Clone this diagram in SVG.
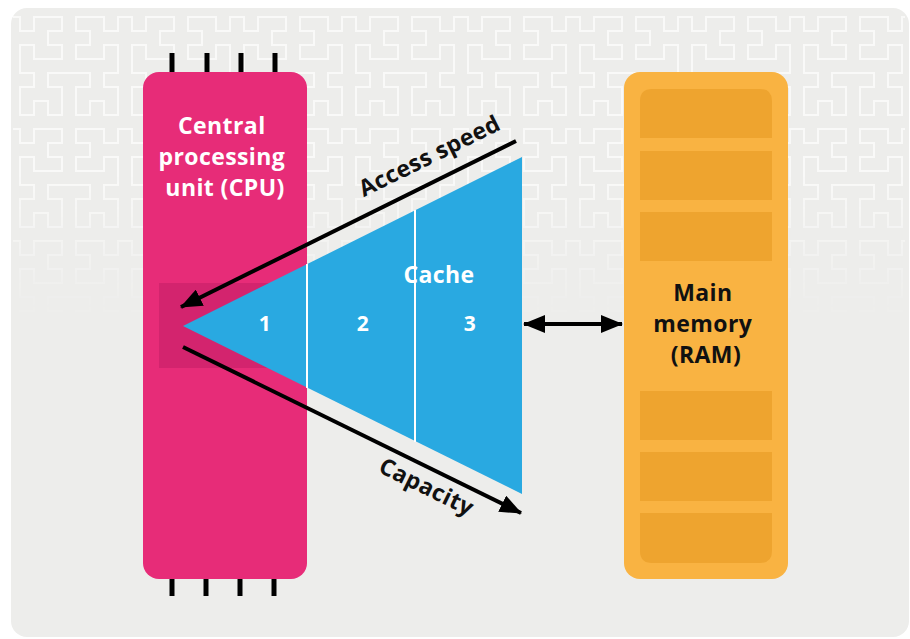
<svg xmlns="http://www.w3.org/2000/svg" width="910" height="639" viewBox="0 0 910 639">
  <style>
    .lbl { font-family: "Open Sans", "Liberation Sans", sans-serif; font-weight: 700; letter-spacing: 0.4px; }
    .white { fill: #ffffff; }
    .dark { fill: #111111; }
    .pin { stroke: #000000; stroke-width: 5; }
    .arrow { stroke: #000000; stroke-width: 4; fill: none; }
    .slot { fill: #EEA42F; }
    .divider { stroke: #ffffff; stroke-width: 2; }
  </style>
  <defs>
    <!-- Hilbert-curve tile for the background texture -->
    <pattern id="hilbert" patternUnits="userSpaceOnUse" x="13" y="10" width="112" height="112">
      <path d="M-7 7 H7 V21 H21 V7 H35 H49 V21 H35 V35 H49 V49 H35 H21 V35 H7 V49 V63 H21 V77 H7 V91 V105 H21 V91 H35 V105 H49 V91 V77 H35 V63 H49 H63 H77 V77 H63 V91 V105 H77 V91 H91 V105 H105 V91 V77 H91 V63 H105 V49 V35 H91 V49 H77 H63 V35 H77 V21 H63 V7 H77 H91 V21 H105 V7 H119" fill="none" stroke="#f9f9f8" stroke-width="2" stroke-linecap="square"/>
    </pattern>
    <linearGradient id="fade" gradientUnits="userSpaceOnUse" x1="0" y1="170" x2="0" y2="320">
      <stop offset="0" stop-color="#ffffff"/>
      <stop offset="1" stop-color="#000000"/>
    </linearGradient>
    <mask id="fadeMask" maskUnits="userSpaceOnUse" x="0" y="0" width="910" height="639">
      <rect x="0" y="0" width="910" height="639" fill="url(#fade)"/>
    </mask>
    <marker id="head" markerUnits="userSpaceOnUse" markerWidth="22" markerHeight="18" refX="21" refY="9" orient="auto-start-reverse" viewBox="0 0 22 18">
      <path d="M0 0 L22 9 L0 18 Z" fill="#000000"/>
    </marker>
  </defs>

  <!-- background card with fading maze texture -->
  <rect x="11" y="8" width="898" height="629" rx="16" fill="#EDEDEB"/>
  <rect x="13" y="10" width="892" height="320" fill="url(#hilbert)" mask="url(#fadeMask)"/>

  <!-- CPU -->
  <g id="cpu">
    <line class="pin" x1="172" y1="53" x2="172" y2="74"/>
    <line class="pin" x1="207" y1="53" x2="207" y2="74"/>
    <line class="pin" x1="241" y1="53" x2="241" y2="74"/>
    <line class="pin" x1="275" y1="53" x2="275" y2="74"/>
    <line class="pin" x1="172" y1="577" x2="172" y2="596"/>
    <line class="pin" x1="206" y1="577" x2="206" y2="596"/>
    <line class="pin" x1="240" y1="577" x2="240" y2="596"/>
    <line class="pin" x1="274" y1="577" x2="274" y2="596"/>
    <rect x="143" y="72" width="164" height="507" rx="16" fill="#E72C78"/>
    <rect x="159" y="283" width="111" height="85" fill="#D3246E"/>
    <text class="lbl white" font-size="23" text-anchor="middle">
      <tspan x="225" y="134">Central</tspan>
      <tspan x="225" y="165">processing</tspan>
      <tspan x="225" y="196">unit (CPU)</tspan>
    </text>
  </g>

  <!-- Cache levels -->
  <g id="cache">
    <path d="M183 326 L522 157 L522 494 Z" fill="#29A9E1"/>
    <line class="divider" x1="307" y1="264" x2="307" y2="388"/>
    <line class="divider" x1="415" y1="210" x2="415" y2="442"/>
    <text class="lbl white" font-size="23" x="439" y="283" text-anchor="middle">Cache</text>
    <text class="lbl white" font-size="21" x="265" y="331" text-anchor="middle">1</text>
    <text class="lbl white" font-size="21" x="363" y="331" text-anchor="middle">2</text>
    <text class="lbl white" font-size="21" x="470" y="331" text-anchor="middle">3</text>
  </g>

  <!-- Main memory -->
  <g id="ram">
    <rect x="624" y="72" width="164" height="507" rx="16" fill="#F9B342"/>
    <path class="slot" d="M640 138 V101 Q640 89 652 89 H760 Q772 89 772 101 V138 Z"/>
    <rect class="slot" x="640" y="151" width="132" height="49"/>
    <rect class="slot" x="640" y="212" width="132" height="49"/>
    <rect class="slot" x="640" y="391" width="132" height="49"/>
    <rect class="slot" x="640" y="452" width="132" height="49"/>
    <path class="slot" d="M640 513 V551 Q640 563 652 563 H760 Q772 563 772 551 V513 Z"/>
    <text class="lbl dark" font-size="23" text-anchor="middle">
      <tspan x="706" y="301">Main</tspan>
      <tspan x="706" y="332">memory</tspan>
      <tspan x="706" y="363">(RAM)</tspan>
    </text>
  </g>

  <!-- Connectors -->
  <g id="connectors">
    <line class="arrow" x1="516" y1="141" x2="181" y2="307" marker-end="url(#head)"/>
    <line class="arrow" x1="183" y1="347" x2="521" y2="513" marker-end="url(#head)"/>
    <line class="arrow" x1="524" y1="324" x2="622" y2="324" marker-start="url(#head)" marker-end="url(#head)"/>
    <text class="lbl dark" font-size="23" x="433" y="163" text-anchor="middle" transform="rotate(-26.3 433 163)">Access speed</text>
    <text class="lbl dark" font-size="23" x="423" y="494" text-anchor="middle" transform="rotate(26.1 423 494)">Capacity</text>
  </g>
</svg>
